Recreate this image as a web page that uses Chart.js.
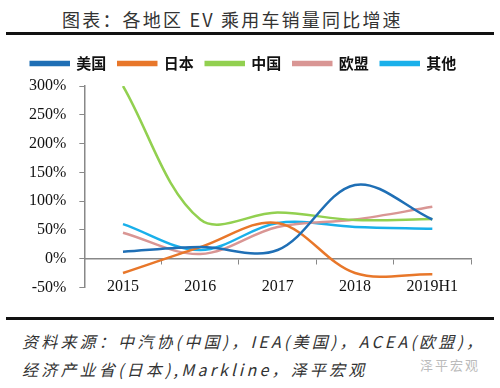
<!DOCTYPE html>
<html>
<head>
<meta charset="utf-8">
<script src="https://cdn.jsdelivr.net/npm/chart.js@4.4.0/dist/chart.umd.min.js"></script>
<style>
  html, body { margin: 0; padding: 0; background: #fff; }
  #wrap { position: relative; width: 500px; height: 388px; overflow: hidden; }
  .title { position: absolute; left: 62px; top: 6px; white-space: nowrap;
    font-family: "Noto Sans CJK SC", sans-serif; font-size: 18px; color: #333; letter-spacing: 2.2px; }
  .rule { position: absolute; left: 6px; width: 488px; height: 3px; background: #111; }
  .note { position: absolute; left: 22px; font-family: "Noto Sans CJK SC", sans-serif;
    font-style: italic; font-size: 16px; color: #333; white-space: nowrap; letter-spacing: 3.2px; }
  .mark { position: absolute; left: 420px; top: 355px; font-family: "Noto Sans CJK SC", sans-serif;
    font-size: 13px; color: #bbb; letter-spacing: 2px; }
  canvas { position: absolute; left: 0; top: 44px; }
</style>
</head>
<body>
<div id="wrap">
  <div class="title">图表：各地区 EV 乘用车销量同比增速</div>
  <div class="rule" style="top:32px"></div>
  <canvas id="evChart" width="500" height="266"></canvas>
  <div class="rule" style="top:317px"></div>
  <div class="note" style="top:329px">资料来源：中汽协(中国)，IEA(美国)，ACEA(欧盟)，</div>
  <div class="note" style="top:357px">经济产业省(日本),Markline，泽平宏观</div>
  <div class="mark">泽平宏观</div>
</div>
<script>
const years = ['2015', '2016', '2017', '2018', '2019H1'];
const usGrowth = [12, 20, 15, 128, 68];
const japanGrowth = [-25, 20, 62, -25, -27];
const chinaGrowth = [300, 68, 80, 67, 69];
const euGrowth = [45, 8, 55, 68, 90];
const otherGrowth = [60, 15, 62, 55, 52];

function series(label, data, color) {
  return {
    label: label,
    data: data,
    borderColor: color,
    backgroundColor: color,
    borderWidth: 2.5,
    pointRadius: 0,
    tension: 0.35,
    fill: false
  }
}

// a bit more room under the legend
const legendGap = {
  id: 'legendGap',
  beforeInit(chart) {
    const fit = chart.legend.fit;
    chart.legend.fit = function () {
      fit.bind(chart.legend)();
      this.height += 5;
    }
  }
}

const ctx = document.getElementById('evChart').getContext('2d');

new Chart(ctx, {
  type: 'line',
  data: {
    labels: years,
    datasets: [
      series('美国', usGrowth, '#1f6fb5'),
      series('日本', japanGrowth, '#e8772a'),
      series('中国', chinaGrowth, '#92d050'),
      series('欧盟', euGrowth, '#d99694'),
      series('其他', otherGrowth, '#1ab0ea')
    ]
  },
  plugins: [legendGap],
  options: {
    responsive: false,
    animation: false,
    layout: { padding: { left: 16, right: 29, top: 0, bottom: 15 } },
    plugins: {
      legend: {
        position: 'top',
        labels: {
          boxWidth: 38,
          boxHeight: 3,
          padding: 12,
          color: '#111',
          font: { family: '"Noto Sans CJK SC"', size: 15, weight: 'bold' }
        }
      },
      tooltip: { enabled: false }
    },
    scales: {
      x: {
        position: { y: 0 },
        offset: true,
        grid: {
          offset: true,
          drawOnChartArea: false,
          tickLength: 5,
          color: '#888'
        },
        border: { color: '#888', width: 1.5 },
        ticks: {
          padding: 14,
          color: '#111',
          font: { family: '"Liberation Serif"', size: 16 }
        }
      },
      y: {
        min: -50,
        max: 300,
        grid: {
          drawOnChartArea: false,
          tickLength: 5,
          color: '#888'
        },
        border: { color: '#888', width: 1.5 },
        ticks: {
          stepSize: 50,
          padding: 13,
          color: '#111',
          font: { family: '"Liberation Serif"', size: 16 },
          callback: (v) => v + '%'
        }
      }
    }
  }
})
</script>
</body>
</html>
